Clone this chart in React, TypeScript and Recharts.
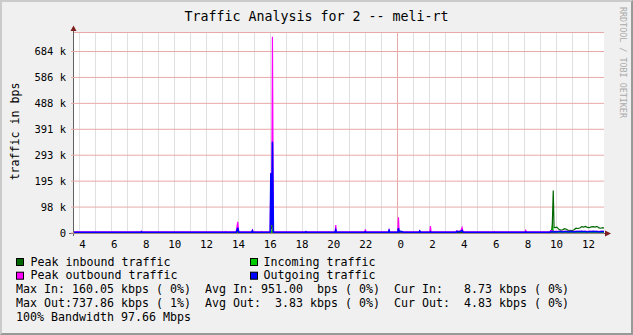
import React from 'react';
import { ComposedChart, Area, Line, XAxis, YAxis, CartesianGrid } from 'recharts';

// sample times in hours, counted from midnight of the first day (24 = next midnight)
const hours = [
  3.667, 3.86, 3.9, 3.94, 5.5, 7.86, 7.9, 7.94, 10.5, 13.16, 13.2, 13.24,
  13.86, 13.9, 13.96, 14.02, 14.84, 14.88, 14.92, 15.41, 15.45, 15.49,
  16.0, 16.04, 16.09, 16.14, 16.2, 18.21, 18.25, 18.29, 20.08, 20.12, 20.16,
  21.94, 21.98, 22.02, 22.61, 22.65, 22.69, 23.43, 23.47, 23.51,
  24.02, 24.06, 24.1, 24.2, 24.3, 24.34, 25.36, 25.4, 25.44, 26.03, 26.07, 26.11,
  27.68, 27.72, 27.85, 27.97, 28.06, 28.12, 30.06, 30.1, 30.14, 32.02, 32.06, 32.1,
  33.58, 33.62, 33.68, 33.73, 33.79, 33.84,
  33.9, 34.02, 34.14, 34.26, 34.38, 34.5, 34.62, 34.74, 34.86, 34.98, 35.1, 35.22,
  35.34, 35.46, 35.58, 35.7, 35.82, 35.94, 36.06, 36.18, 36.3, 36.42, 36.54, 36.66,
  36.78, 36.9, 36.98,
];

// values in kbps
const peakIn = [
  1.5, 1.5, 1.5, 1.5, 1.5, 1.5, 1.5, 1.5, 1.5, 1.5, 1.5, 1.5,
  1.5, 3, 8, 1.5, 1.5, 2, 1.5, 1.5, 1.5, 1.5,
  1.5, 12, 20, 55, 1.5, 1.5, 1.5, 1.5, 1.5, 2, 1.5,
  1.5, 1.5, 1.5, 1.5, 1.5, 1.5, 1.5, 2, 1.5,
  1.5, 3, 1.5, 1.5, 1.5, 1.5, 1.5, 1.5, 1.5, 1.5, 1.5, 1.5,
  1.5, 1.5, 1.5, 1.5, 3, 1.5, 1.5, 1.5, 1.5, 1.5, 1.5, 1.5,
  1.5, 1.5, 3, 30, 160, 20,
  20, 22, 14, 11, 12, 16, 14, 9, 10, 8, 12, 18,
  17, 19, 24, 22, 25, 21, 20, 23, 24, 22, 25, 19,
  18, 20, 18,
];

const incoming = [
  1, 1, 1, 1, 1, 1, 1, 1, 1, 1, 1, 1,
  1, 2, 4, 1, 1, 1, 1, 1, 1, 1,
  1, 6, 10, 22, 1, 1, 1, 1, 1, 1, 1,
  1, 1, 1, 1, 1, 1, 1, 1, 1,
  1, 2, 1, 1, 1, 1, 1, 1, 1, 1, 1, 1,
  1, 1, 1, 1, 2, 1, 1, 1, 1, 1, 1, 1,
  1, 1, 2, 64, 20, 8,
  6, 5, 6, 5, 5, 6, 5, 4, 5, 4, 5, 6,
  6, 5, 7, 6, 7, 6, 6, 7, 6, 6, 7, 6,
  5, 6, 5,
];

const peakOut = [
  4, 4, 6, 4, 4, 4, 7, 4, 4, 4, 6, 4,
  4, 20, 42, 4, 4, 11, 4, 4, 6, 4,
  4, 227, 40, 739, 4, 4, 6, 4, 4, 30, 4,
  4, 14, 4, 4, 5, 4, 4, 11, 4,
  4, 59, 6, 5, 4, 4, 4, 8, 4, 4, 26, 4,
  4, 8, 6, 8, 21, 4, 4, 6, 4, 4, 10, 4,
  4, 9, 9, 8, 6, 6,
  6, 6, 6, 6, 6, 6, 6, 6, 6, 6, 6, 6,
  6, 6, 6, 6, 6, 6, 6, 6, 6, 6, 6, 6,
  6, 6, 6,
];

const outgoing = [
  3, 3, 3, 3, 3, 3, 5, 3, 3, 3, 3, 3,
  3, 8, 20, 3, 3, 8, 3, 3, 3, 3,
  3, 225, 30, 344, 3, 3, 5, 3, 3, 11, 3,
  3, 5, 3, 3, 3, 3, 3, 10, 3,
  3, 18, 5, 6, 5, 3, 3, 7, 3, 3, 5, 3,
  3, 6, 5, 6, 10, 3, 3, 3, 3, 3, 4, 3,
  3, 5, 5, 5, 4, 4,
  5, 4, 5, 5, 4, 5, 5, 4, 5, 5, 4, 5,
  5, 5, 6, 5, 5, 4, 5, 5, 6, 5, 5, 4,
  5, 5, 5,
];

const hourTicks = [4, 5, 6, 7, 8, 9, 10, 11, 12, 13, 14, 15, 16, 17, 18, 19, 20,
  21, 22, 23, 24, 25, 26, 27, 28, 29, 30, 31, 32, 33, 34, 35, 36];
const midnight = 24;
const yTicks = [0, 97.66, 195.31, 292.97, 390.63, 488.28, 585.94, 683.59];

const legendLabels = ['Peak inbound traffic', 'Incoming traffic', 'Peak outbound traffic', 'Outgoing traffic'];
const legendColors = ['#006600', '#00cc00', '#ff00ff', '#0000ff'];
const statLines = [
  'Max In: 160.05 kbps ( 0%)  Avg In: 951.00  bps ( 0%)  Cur In:   8.73 kbps ( 0%)',
  'Max Out:737.86 kbps ( 1%)  Avg Out:  3.83 kbps ( 0%)  Cur Out:  4.83 kbps ( 0%)',
  '100% Bandwidth 97.66 Mbps',
];

const data = hours.map((t, i) => ({
  t,
  peakIn: peakIn[i],
  in: incoming[i],
  peakOut: peakOut[i],
  out: outgoing[i],
}));

const MONO = '"DejaVu Sans Mono", monospace';
const MGRID = '#eaa9a9';
const GRID = '#e0e0e0';

const XTick = (props: any) => {
  const { x, payload } = props;
  const h = payload.value;
  if (h % 2 !== 0) return <g />;
  const label = String(h % 24).padStart(2, ' ');
  return (
    <text x={x} y={247.5} textAnchor="middle" fontFamily={MONO} fontSize={10.8} fill="#000"
      style={{ whiteSpace: 'pre' }}>{label}</text>
  );
};

const YTick = (props: any) => {
  const { y, payload } = props;
  const v = payload.value;
  return (
    <text x={66} y={y + 3.8} textAnchor="end" fontFamily={MONO} fontSize={10.5} fill="#000">
      {v === 0 ? '0' : `${Math.round(v)} k`}
    </text>
  );
};

const Decorations = () => (
  <svg width={633} height={335} style={{ position: 'absolute', left: 0, top: 0 }}>
    <text x={316.5} y={20.7} textAnchor="middle" fontFamily={MONO} fontSize={13.3} fill="#000">
      Traffic Analysis for 2 -- meli-rt
    </text>
    <text transform="translate(18.5,131.5) rotate(-90)" textAnchor="middle" fontFamily={MONO}
      fontSize={11.6} fill="#000">traffic in bps</text>
    <text transform="translate(619.8,62.5) rotate(90)" textAnchor="middle" fontFamily={MONO}
      fontSize={8.4} fill="#ababab">RRDTOOL / TOBI OETIKER</text>

    {/* axes */}
    <line x1={69} y1={233.5} x2={606} y2={233.5} stroke="#606060" />
    <polygon points="605,230.5 611,233.5 605,236.5" fill="#7f1f1f" />
    <line x1={73.5} y1={236} x2={73.5} y2={30} stroke="#606060" />
    <polygon points="70.5,31 76.5,31 73.5,25.5" fill="#7f1f1f" />

    {/* legend */}
    {legendLabels.map((label, i) => {
      const col = i % 2;
      const row = Math.floor(i / 2);
      const bx = col === 0 ? 16.5 : 250.5;
      const tx = col === 0 ? 30.5 : 263.5;
      const base = 265.7 + row * 13.7;
      return (
        <g key={label}>
          <rect x={bx} y={base - 7.2} width={7} height={7} fill={legendColors[i]} stroke="#000" />
          <text x={tx} y={base} fontFamily={MONO} fontSize={11.63} fill="#000">{label}</text>
        </g>
      );
    })}
    {statLines.map((line, i) => (
      <text key={i} x={16} y={265.7 + (i + 2) * 13.7} fontFamily={MONO} fontSize={11.63} fill="#000"
        style={{ whiteSpace: 'pre' }}>{line}</text>
    ))}
  </svg>
);

export default function App() {
  return (
    <div style={{ position: 'absolute', left: 0, top: 0, width: 633, height: 335, background: '#f0f0f0', overflow: 'hidden' }}>
      <Decorations />
      <div style={{ position: 'absolute', left: 0, top: 0 }}>
        <ComposedChart width={633} height={335} data={data} margin={{ top: 32.5, right: 29, bottom: 0, left: 0 }}>
          <CartesianGrid horizontal={false} stroke={GRID} fill="#ffffff" shapeRendering="crispEdges"
            verticalValues={hourTicks.filter((h) => h !== midnight)} />
          <CartesianGrid horizontal={false} stroke={MGRID} shapeRendering="crispEdges"
            verticalValues={[midnight]} />
          <CartesianGrid vertical={false} stroke={MGRID} />
          <XAxis type="number" dataKey="t" domain={[3.667, 36.98]} ticks={hourTicks} interval={0}
            tick={<XTick />} tickLine={false} axisLine={false} height={102} allowDataOverflow />
          <YAxis type="number" domain={[0, 755.2]} ticks={yTicks} interval={0} tick={<YTick />}
            tickLine={{ stroke: MGRID }} tickSize={3} axisLine={false} width={74} allowDataOverflow />
          <Area dataKey="in" type="linear" fill="#00cc00" fillOpacity={1} stroke="none" isAnimationActive={false} />
          <Line dataKey="peakIn" type="linear" stroke="#006600" strokeWidth={1.2} dot={false} isAnimationActive={false} />
          <Line dataKey="peakOut" type="linear" stroke="#ff00ff" strokeWidth={1.2} dot={false} isAnimationActive={false} />
          <Line dataKey="out" type="linear" stroke="#0000ff" strokeWidth={1.6} dot={false} isAnimationActive={false} />
        </ComposedChart>
      </div>
      <div style={{
        position: 'absolute', left: 0, top: 0, width: 633, height: 335, boxSizing: 'border-box',
        borderTop: '2px solid #cbcbcb', borderLeft: '2px solid #cbcbcb',
        borderRight: '2px solid #999999', borderBottom: '2px solid #999999', pointerEvents: 'none',
      }} />
    </div>
  );
}
